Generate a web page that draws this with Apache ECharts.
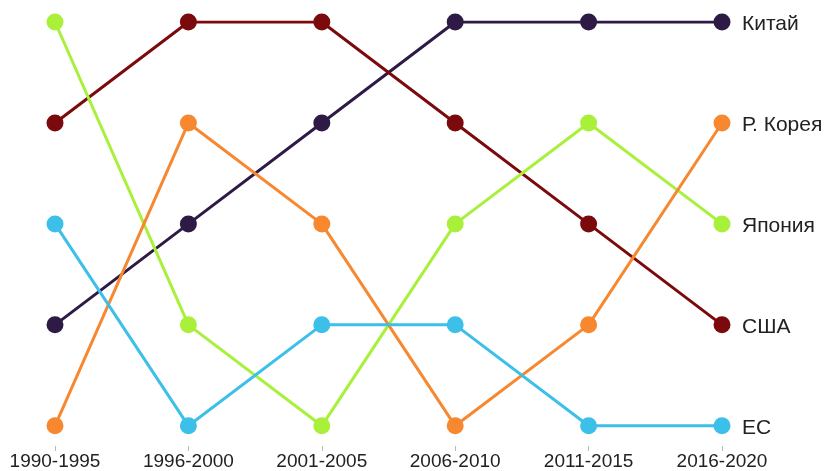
<!DOCTYPE html>
<html>
<head>
<meta charset="utf-8">
<script src="https://cdn.jsdelivr.net/npm/echarts@6/dist/echarts.min.js"></script>
<style>
  html, body { margin: 0; padding: 0; background: #fff; }
  #chart { width: 835px; height: 471px; }
</style>
</head>
<body>
<div id="chart"></div>
<script>
// Periods along the horizontal axis
const periods = ['1990-1995', '1996-2000', '2001-2005', '2006-2010', '2011-2015', '2016-2020'];

// Rank of each economy in every period (1 = top)
const china = [4, 3, 2, 1, 1, 1];
const usa = [2, 1, 1, 2, 3, 4];
const japan = [1, 4, 5, 3, 2, 3];
const korea = [5, 2, 3, 5, 4, 2];
const eu = [3, 5, 4, 4, 5, 5];

const seriesDefs = [
  { name: 'Китай', data: china, color: '#2d1b45' },
  { name: 'США', data: usa, color: '#7a0a0c' },
  { name: 'Япония', data: japan, color: '#a8f03a' },
  { name: 'Р. Корея', data: korea, color: '#f7882f' },
  { name: 'ЕС', data: eu, color: '#3cbfe8' }
];

const font = '"Liberation Sans", Arial, sans-serif';

const chart = echarts.init(document.getElementById('chart'), null, { renderer: 'canvas' });

chart.setOption({
  animation: false,
  backgroundColor: '#ffffff',
  grid: { left: 55, right: 113, top: 22, bottom: 25 },
  xAxis: {
    type: 'category',
    data: periods,
    boundaryGap: false,
    axisLine: { show: false },
    axisTick: { show: true, length: 5, lineStyle: { color: '#bbbbbb', width: 1 } },
    axisLabel: { color: '#222', fontSize: 19, fontFamily: font, margin: 6 },
    splitLine: { show: false }
  },
  yAxis: {
    type: 'value',
    inverse: true,
    min: 1,
    max: 5.2,
    show: false,
    splitLine: { show: false }
  },
  series: seriesDefs.map(s => ({
    name: s.name,
    type: 'line',
    data: s.data,
    symbol: 'circle',
    symbolSize: 17,
    itemStyle: { color: s.color },
    lineStyle: { color: s.color, width: 3 },
    endLabel: {
      show: true,
      formatter: s.name,
      color: '#222',
      fontSize: 21,
      fontFamily: font,
      distance: 20,
      offset: [0, 2]
    }
  }))
});
</script>
</body>
</html>
